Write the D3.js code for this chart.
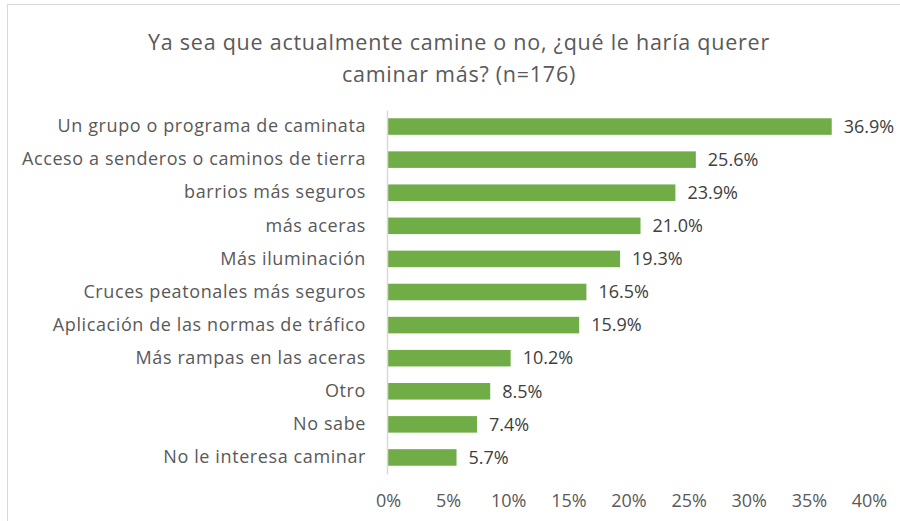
<!DOCTYPE html>
<html>
<head>
<meta charset="utf-8">
<script src="https://cdn.jsdelivr.net/npm/d3@7"></script>
<style>
  body { margin: 0; background: #fff; }
  svg { display: block; font-family: "Open Sans", sans-serif; }
</style>
</head>
<body>
<svg id="chart"></svg>
<script>
// Categories and percentages
const categories = [
    "Un grupo o programa de caminata",
    "Acceso a senderos o caminos de tierra",
    "barrios más seguros",
    "más aceras",
    "Más iluminación",
    "Cruces peatonales más seguros",
    "Aplicación de las normas de tráfico",
    "Más rampas en las aceras",
    "Otro",
    "No sabe",
    "No le interesa caminar"
];
const values = [36.9, 25.6, 23.9, 21.0, 19.3, 16.5, 15.9, 10.2, 8.5, 7.4, 5.7];
const tickValues = [0, 5, 10, 15, 20, 25, 30, 35, 40];
const titleLines = [
    "Ya sea que actualmente camine o no, ¿qué le haría querer",
    "caminar más? (n=176)"
];

let width = 900,
    height = 521;
let font = '"Open Sans", sans-serif';

let svg = d3.select('#chart')
    .attr('width', width)
    .attr('height', height);

// chart area border (top and left visible)
svg.append('rect')
    .attr('x', 7.5)
    .attr('y', 4.5)
    .attr('width', 900)
    .attr('height', 600)
    .attr('fill', 'none')
    .attr('stroke', '#d9d9d9');

// title
svg.append('g')
    .selectAll('text')
    .data(titleLines)
    .enter().append('text')
      .attr('x', 459)
      .attr('y', (d, i) => 50 + i * 32)
      .attr('text-anchor', 'middle')
      .attr('fill', '#595959')
      .attr('font-size', 21.5)
      .attr('letter-spacing', 0.75)
      .text((d) => d);

let x = d3.scaleLinear()
    .domain([0, 40])
    .range([388, 869]);

let y = d3.scaleBand()
    .domain(categories)
    .range([110, 474])
    .paddingInner(0.5)
    .paddingOuter(0.25);

let data = categories.map((c, i) => ({ cat: c, value: values[i] }));

// bars
svg.append('g')
    .selectAll('rect')
    .data(data)
    .enter().append('rect')
      .attr('x', x(0))
      .attr('y', (d) => y(d.cat))
      .attr('width', (d) => x(d.value) - x(0))
      .attr('height', y.bandwidth())
      .attr('fill', '#70ad47');

// value labels
svg.append('g')
    .selectAll('text')
    .data(data)
    .enter().append('text')
      .attr('x', (d) => x(d.value) + 12)
      .attr('y', (d) => y(d.cat) + y.bandwidth() / 2)
      .attr('dy', '0.35em')
      .attr('fill', '#404040')
      .attr('font-size', 18)
      .text((d) => d.value.toFixed(1) + '%');

// category axis
let yAxis = svg.append('g')
    .attr('transform', `translate(${x(0) - 1},0)`)
    .call(d3.axisLeft(y).tickSize(0).tickPadding(21));
yAxis.select('.domain').attr('stroke', '#d9d9d9').attr('stroke-width', 1.5);
yAxis.selectAll('text')
    .attr('fill', '#595959')
    .attr('font-size', 18)
    .attr('letter-spacing', 0.6)
    .attr('font-family', font);

// value axis (labels only)
let xAxis = svg.append('g')
    .attr('transform', 'translate(0,491)')
    .call(d3.axisBottom(x)
        .tickValues(tickValues)
        .tickSize(0)
        .tickFormat((d) => d + '%'));
xAxis.select('.domain').remove();
xAxis.selectAll('text')
    .attr('fill', '#595959')
    .attr('font-size', 18)
    .attr('font-family', font);
</script>
</body>
</html>
